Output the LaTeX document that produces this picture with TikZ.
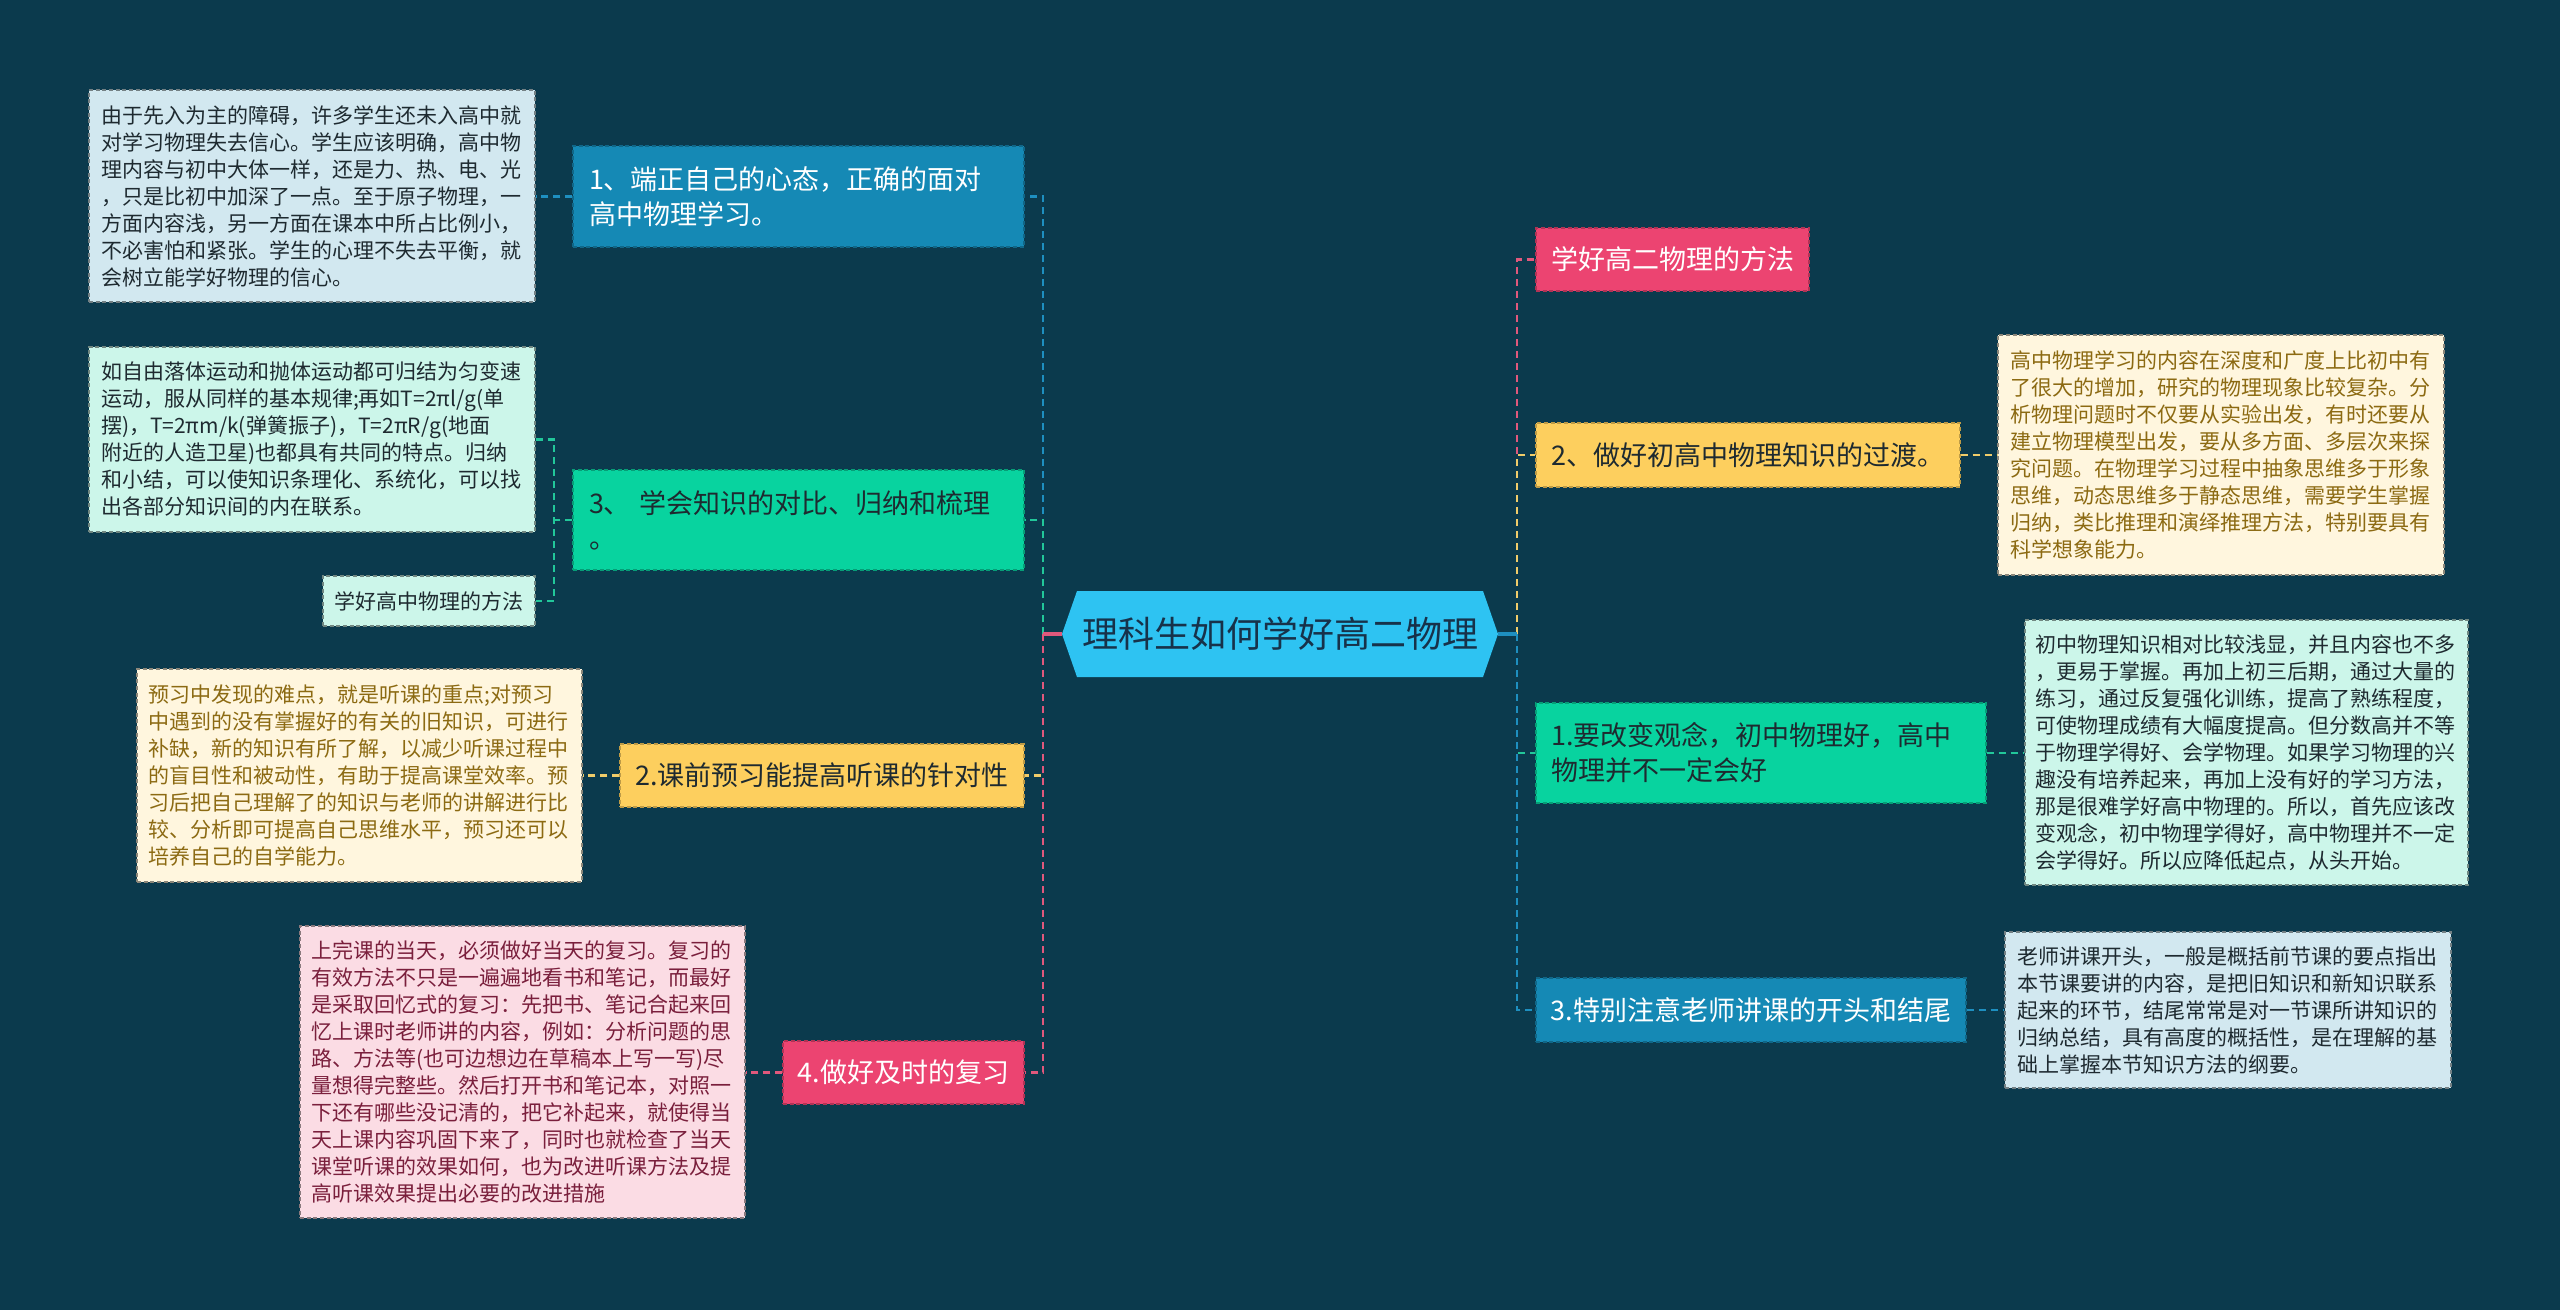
\documentclass[tikz,border=0pt]{standalone}
\usepackage{fontspec}
\setmainfont{Noto Sans CJK SC}
\definecolor{bg}{HTML}{0B3A4D}
\definecolor{cblue}{HTML}{1589B5}
\definecolor{cgreen}{HTML}{08D39F}
\definecolor{cyellow}{HTML}{FDCF5E}
\definecolor{cpink}{HTML}{EC4471}
\definecolor{ccenter}{HTML}{2EC3F2}
\definecolor{lblue}{HTML}{D2E8F0}
\definecolor{lmint}{HTML}{CCF6EA}
\definecolor{lcream}{HTML}{FFF6DE}
\definecolor{lpink}{HTML}{FBDCE4}
\definecolor{tdark}{HTML}{1E2A30}
\definecolor{tcenter}{HTML}{17324A}
\definecolor{tbrown}{HTML}{8C6A12}
\definecolor{tred}{HTML}{7A1F3C}
\definecolor{lnblue}{HTML}{1E8FC0}
\definecolor{lngreen}{HTML}{22C79A}
\definecolor{lnyellow}{HTML}{F0CC6A}
\definecolor{lnpink}{HTML}{E0587C}
\tikzset{
  box/.style={rectangle, inner sep=0pt, align=left, line width=0.8pt, dash pattern=on 3pt off 2pt},
  detail/.style={box, font=\fontsize{15.75pt}{20.25pt}\selectfont, text width=316.5pt},
  single/.style={box, align=center, font=\fontsize{15.75pt}{20.25pt}\selectfont},
  branch/.style={box, font=\fontsize{20.25pt}{26.25pt}\selectfont},
  conn/.style={line width=2pt, dash pattern=on 5.25pt off 3.75pt},
  sz/.style 2 args={minimum width=#1*0.75pt, minimum height=#2*0.75pt},
}
\begin{document}
\begin{tikzpicture}[x=0.75pt,y=-0.75pt]
\fill[bg] (0,0) rectangle (2560,1310);
\useasboundingbox (0,0) rectangle (2560,1310);

% central node
\fill[ccenter] (1062,634) -- (1077,591) -- (1483,591) -- (1498,634) -- (1483,677) -- (1077,677) -- cycle;
\node[inner sep=0pt, sz={436}{85}, font=\fontsize{27pt}{32pt}\selectfont, text=tcenter] (C) at (1280,634) {理科生如何学好高二物理};

% branch nodes, left
\node[branch, sz={451}{101}, fill=cblue, draw=cblue!75!black, text=white, text width=314.25pt] (A1) at (798.5,196.5) {1、端正自己的心态，正确的面对\\高中物理学习。};
\node[branch, sz={451}{100}, fill=cgreen, draw=cgreen!75!black, text=tdark, text width=314.25pt] (A3) at (798.5,520) {3、 学会知识的对比、归纳和梳理\\。};
\node[branch, align=center, sz={404}{63}, fill=cyellow, draw=cyellow!75!black, text=tdark] (A2) at (822,775.5) {2.课前预习能提高听课的针对性};
\node[branch, align=center, sz={241}{63}, fill=cpink, draw=cpink!75!black, text=white] (A4) at (903.5,1072.5) {4.做好及时的复习};

% branch nodes, right
\node[branch, align=center, sz={273}{63}, fill=cpink, draw=cpink!75!black, text=white] (B0) at (1672.5,259.5) {学好高二物理的方法};
\node[branch, align=center, sz={424}{64}, fill=cyellow, draw=cyellow!75!black, text=tdark] (B2) at (1748,455) {2、做好初高中物理知识的过渡。};
\node[branch, sz={450}{100}, fill=cgreen, draw=cgreen!75!black, text=tdark, text width=315pt] (B1) at (1761,753) {1.要改变观念，初中物理好，高中\\物理并不一定会好};
\node[branch, align=center, sz={430}{64}, fill=cblue, draw=cblue!75!black, text=white] (B3) at (1751,1010) {3.特别注意老师讲课的开头和结尾};

% detail nodes
\node[detail, sz={446}{212}, fill=lblue, draw=lblue!55!black, text=tdark] (D1) at (312,196) {由于先入为主的障碍，许多学生还未入高中就\\对学习物理失去信心。学生应该明确，高中物\\理内容与初中大体一样，还是力、热、电、光\\，只是比初中加深了一点。至于原子物理，一\\方面内容浅，另一方面在课本中所占比例小，\\不必害怕和紧张。学生的心理不失去平衡，就\\会树立能学好物理的信心。};
\node[detail, sz={446}{185}, fill=lmint, draw=lmint!55!black, text=tdark] (D2) at (312,439.5) {如自由落体运动和抛体运动都可归结为匀变速\\运动，服从同样的基本规律;再如T=2πl/g(单\\摆)，T=2πm/k(弹簧振子)，T=2πR/g(地面\\附近的人造卫星)也都具有共同的特点。归纳\\和小结，可以使知识条理化、系统化，可以找\\出各部分知识间的内在联系。};
\node[single, sz={212}{50}, fill=lmint, draw=lmint!55!black, text=tdark] (D2b) at (429,601) {学好高中物理的方法};
\node[detail, sz={445}{213}, fill=lcream, draw=lcream!55!black, text=tbrown] (D3) at (359.5,775.5) {预习中发现的难点，就是听课的重点;对预习\\中遇到的没有掌握好的有关的旧知识，可进行\\补缺，新的知识有所了解，以减少听课过程中\\的盲目性和被动性，有助于提高课堂效率。预\\习后把自己理解了的知识与老师的讲解进行比\\较、分析即可提高自己思维水平，预习还可以\\培养自己的自学能力。};
\node[detail, sz={445}{292}, fill=lpink, draw=lpink!55!black, text=tred] (D4) at (522.5,1072) {上完课的当天，必须做好当天的复习。复习的\\有效方法不只是一遍遍地看书和笔记，而最好\\是采取回忆式的复习：先把书、笔记合起来回\\忆上课时老师讲的内容，例如：分析问题的思\\路、方法等(也可边想边在草稿本上写一写)尽\\量想得完整些。然后打开书和笔记本，对照一\\下还有哪些没记清的，把它补起来，就使得当\\天上课内容巩固下来了，同时也就检查了当天\\课堂听课的效果如何，也为改进听课方法及提\\高听课效果提出必要的改进措施};
\node[detail, sz={446}{240}, fill=lcream, draw=lcream!55!black, text=tbrown] (D5) at (2221,455) {高中物理学习的内容在深度和广度上比初中有\\了很大的增加，研究的物理现象比较复杂。分\\析物理问题时不仅要从实验出发，有时还要从\\建立物理模型出发，要从多方面、多层次来探\\究问题。在物理学习过程中抽象思维多于形象\\思维，动态思维多于静态思维，需要学生掌握\\归纳，类比推理和演绎推理方法，特别要具有\\科学想象能力。};
\node[detail, sz={443}{265}, fill=lmint, draw=lmint!55!black, text=tdark] (D6) at (2246.5,752.5) {初中物理知识相对比较浅显，并且内容也不多\\，更易于掌握。再加上初三后期，通过大量的\\练习，通过反复强化训练，提高了熟练程度，\\可使物理成绩有大幅度提高。但分数高并不等\\于物理学得好、会学物理。如果学习物理的兴\\趣没有培养起来，再加上没有好的学习方法，\\那是很难学好高中物理的。所以，首先应该改\\变观念，初中物理学得好，高中物理并不一定\\会学得好。所以应降低起点，从头开始。};
\node[detail, sz={446}{156}, fill=lblue, draw=lblue!55!black, text=tdark] (D7) at (2228,1010) {老师讲课开头，一般是概括前节课的要点指出\\本节课要讲的内容，是把旧知识和新知识联系\\起来的环节，结尾常常是对一节课所讲知识的\\归纳总结，具有高度的概括性，是在理解的基\\础上掌握本节知识方法的纲要。};

% spine coordinates
\coordinate (spL) at (1043,634);
\coordinate (spR) at (1517,634);
\coordinate (brk) at (554,520);

% left spine connectors
\draw[conn, lnblue] (spL) |- (A1.east);
\draw[conn, lngreen] (spL) |- (A3.east);
\draw[conn, lnyellow] (spL) |- (A2.east);
\draw[conn, lnpink] (spL) |- (A4.east);
\draw[lnpink, line width=2.4pt] (C.west) -- (spL);

% right spine connectors
\draw[conn, lnpink] (spR) |- (B0.west);
\draw[conn, lnyellow] (spR) |- (B2.west);
\draw[conn, lngreen] (spR) |- (B1.west);
\draw[conn, lnblue] (spR) |- (B3.west);
\draw[lnblue, line width=2.4pt] (C.east) -- (spR);

% detail connectors
\draw[conn, lnblue] (A1.west) -- (A1.west -| D1.east);
\draw[conn, lngreen] (A3.west) -- (A3.west -| brk);
\draw[conn, lngreen] (D2.east) -- (D2.east -| brk) -- (D2b.east -| brk) -- (D2b.east);
\draw[conn, lnyellow] (A2.west) -- (A2.west -| D3.east);
\draw[conn, lnpink] (A4.west) -- (A4.west -| D4.east);
\draw[conn, lnyellow] (B2.east) -- (B2.east -| D5.west);
\draw[conn, lngreen] (B1.east) -- (B1.east -| D6.west);
\draw[conn, lnblue] (B3.east) -- (B3.east -| D7.west);
\end{tikzpicture}
\end{document}
